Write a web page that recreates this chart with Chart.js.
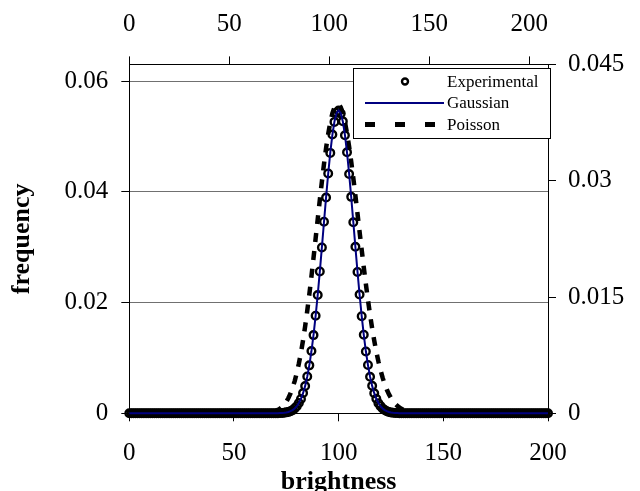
<!DOCTYPE html>
<html>
<head>
<meta charset="utf-8">
<script src="https://cdn.jsdelivr.net/npm/chart.js@4/dist/chart.umd.min.js"></script>
<style>
  html, body { margin: 0; padding: 0; background: #fff; }
  #c { display: block; }
</style>
</head>
<body>
<canvas id="c" width="640" height="491"></canvas>
<script>
// ---------- DATA ----------
const brightness = [
  0,1,2,3,4,5,6,7,8,9,10,11,12,13,14,15,16,17,18,19,
  20,21,22,23,24,25,26,27,28,29,30,31,32,33,34,35,36,37,38,39,
  40,41,42,43,44,45,46,47,48,49,50,51,52,53,54,55,56,57,58,59,
  60,61,62,63,64,65,66,67,68,69,70,71,72,73,74,75,76,77,78,79,
  80,81,82,83,84,85,86,87,88,89,90,91,92,93,94,95,96,97,98,99,
  100,101,102,103,104,105,106,107,108,109,110,111,112,113,114,115,116,117,118,119,
  120,121,122,123,124,125,126,127,128,129,130,131,132,133,134,135,136,137,138,139,
  140,141,142,143,144,145,146,147,148,149,150,151,152,153,154,155,156,157,158,159,
  160,161,162,163,164,165,166,167,168,169,170,171,172,173,174,175,176,177,178,179,
  180,181,182,183,184,185,186,187,188,189,190,191,192,193,194,195,196,197,198,199,
  200
];

// brightness 0..69 -> 0 ; 70..130 values ; 131..200 -> 0
const experimental = [
  0,0,0,0,0,0,0,0,0,0, 0,0,0,0,0,0,0,0,0,0, 0,0,0,0,0,0,0,0,0,0,
  0,0,0,0,0,0,0,0,0,0, 0,0,0,0,0,0,0,0,0,0, 0,0,0,0,0,0,0,0,0,0,
  0,0,0,0,0,0,0,0,0,0,
  0.00001,0.00002,0.00004,0.00006,0.00010,0.00017,0.00024,0.00039,0.00057,0.00089,
  0.00126,0.00187,0.00259,0.00366,0.00492,0.00665,0.00866,0.01124,0.01412,0.01762,
  0.02135,0.02562,0.02995,0.03460,0.03896,0.04331,0.04702,0.05033,0.05262,0.05425,
  0.05466,0.05414,0.05273,0.05021,0.04713,0.04320,0.03908,0.03449,0.03006,0.02553,
  0.02144,0.01754,0.01419,0.01117,0.00873,0.00659,0.00497,0.00361,0.00264,0.00183,
  0.00129,0.00086,0.00059,0.00037,0.00025,0.00015,0.00010,0.00006,0.00004,0.00002,
  0.00001,
  0,0,0,0,0,0,0,0,0,0, 0,0,0,0,0,0,0,0,0,0, 0,0,0,0,0,0,0,0,0,0,
  0,0,0,0,0,0,0,0,0,0, 0,0,0,0,0,0,0,0,0,0, 0,0,0,0,0,0,0,0,0,0,
  0,0,0,0,0,0,0,0,0,0
];

const gaussian = [
  0,0,0,0,0,0,0,0,0,0, 0,0,0,0,0,0,0,0,0,0, 0,0,0,0,0,0,0,0,0,0,
  0,0,0,0,0,0,0,0,0,0, 0,0,0,0,0,0,0,0,0,0, 0,0,0,0,0,0,0,0,0,0,
  0,0,0,0,0,0,0,0,0,0,
  0.00001,0.00002,0.00004,0.00006,0.00010,0.00016,0.00025,0.00038,0.00058,0.00087,
  0.00128,0.00185,0.00262,0.00363,0.00495,0.00662,0.00870,0.01120,0.01416,0.01758,
  0.02140,0.02558,0.03001,0.03454,0.03902,0.04326,0.04708,0.05027,0.05268,0.05419,
  0.05470,0.05419,0.05268,0.05027,0.04708,0.04326,0.03902,0.03454,0.03001,0.02558,
  0.02140,0.01758,0.01416,0.01120,0.00870,0.00662,0.00495,0.00363,0.00262,0.00185,
  0.00128,0.00087,0.00058,0.00038,0.00025,0.00016,0.00010,0.00006,0.00004,0.00002,
  0.00001,
  0,0,0,0,0,0,0,0,0,0, 0,0,0,0,0,0,0,0,0,0, 0,0,0,0,0,0,0,0,0,0,
  0,0,0,0,0,0,0,0,0,0, 0,0,0,0,0,0,0,0,0,0, 0,0,0,0,0,0,0,0,0,0,
  0,0,0,0,0,0,0,0,0,0
];

// read against the right-hand axis; brightness 0..61 -> 0 ; 62..142 values ; 143..200 -> 0
const poisson = [
  0,0,0,0,0,0,0,0,0,0, 0,0,0,0,0,0,0,0,0,0, 0,0,0,0,0,0,0,0,0,0,
  0,0,0,0,0,0,0,0,0,0, 0,0,0,0,0,0,0,0,0,0, 0,0,0,0,0,0,0,0,0,0,
  0,0,
  0.000012,0.000019,0.000029,0.000045,0.000068,0.000102,0.000150,0.000217,
  0.000311,0.000437,0.000608,0.000832,0.001125,0.001500,0.001973,0.002562,0.003285,0.004158,
  0.005198,0.006417,0.007826,0.009428,0.011224,0.013205,0.015355,0.017649,0.020056,0.022535,
  0.025039,0.027515,0.029908,0.032159,0.034212,0.036012,0.037513,0.038673,0.039462,0.039861,
  0.039861,0.039466,0.038692,0.037565,0.036120,0.034400,0.032453,0.030330,0.028083,0.025764,
  0.023422,0.021101,0.018840,0.016673,0.014625,0.012718,0.010963,0.009370,0.007941,0.006673,
  0.005561,0.004596,0.003767,0.003063,0.002470,0.001976,0.001568,0.001235,0.000965,0.000748,
  0.000575,0.000439,0.000333,0.000250,0.000187,0.000138,0.000102,0.000074,0.000054,0.000039,
  0.000028,0.000020,0.000014,
  0,0,0,0,0,0,0,0,0,0, 0,0,0,0,0,0,0,0,0,0, 0,0,0,0,0,0,0,0,0,0,
  0,0,0,0,0,0,0,0,0,0, 0,0,0,0,0,0,0,0,0,0, 0,0,0,0,0,0,0,0
];

const seriesNames = ['Experimental', 'Gaussian', 'Poisson'];
const bottomTicks = [0, 50, 100, 150, 200];
const bottomTickLabels = ['0', '50', '100', '150', '200'];
const topTicks = [0, 50, 100, 150, 200];
const topTickLabels = ['0', '50', '100', '150', '200'];
const leftTicks = [0, 0.02, 0.04, 0.06];
const leftTickLabels = ['0', '0.02', '0.04', '0.06'];
const rightTicks = [0, 0.015, 0.03, 0.045];
const rightTickLabels = ['0', '0.015', '0.03', '0.045'];

// ---------- CHART ----------
const SERIF = "'Liberation Serif', 'Times New Roman', serif";
const pts = (ys) => brightness.map((x, i) => ({ x: x, y: ys[i] }));
const setTicks = (arr) => (s) => { s.ticks = arr.map(v => ({ value: v })); };
const tickFont = { family: SERIF, size: 25 };

const legendBox = {
  id: 'legendBox',
  afterDraw(chart) {
    const ctx = chart.ctx;
    const ds = chart.data.datasets;
    const L = 353.5, T = 68.5, R = 550.5, B = 138.5;
    ctx.save();
    ctx.fillStyle = '#fff';
    ctx.fillRect(L, T, R - L, B - T);
    ctx.strokeStyle = '#000';
    ctx.lineWidth = 1;
    ctx.strokeRect(L, T, R - L, B - T);
    const rows = [81.5, 103, 124.5];
    ctx.font = '17px ' + SERIF;
    ctx.fillStyle = '#000';
    ctx.textBaseline = 'middle';
    ctx.textAlign = 'left';
    ds.forEach((d, i) => {
      const y = rows[i];
      ctx.fillText(d.label, 447, y + 1);
      if (i === 0) {
        ctx.beginPath();
        ctx.arc(405, y, 3, 0, Math.PI * 2);
        ctx.lineWidth = 2.4;
        ctx.strokeStyle = d.pointBorderColor;
        ctx.stroke();
      } else if (i === 1) {
        ctx.beginPath();
        ctx.moveTo(365, y);
        ctx.lineTo(444, y);
        ctx.lineWidth = 2;
        ctx.strokeStyle = d.borderColor;
        ctx.setLineDash([]);
        ctx.stroke();
      } else {
        ctx.beginPath();
        ctx.moveTo(365, y);
        ctx.lineTo(437, y);
        ctx.lineWidth = 5;
        ctx.strokeStyle = d.borderColor;
        ctx.setLineDash([10, 20]);
        ctx.stroke();
        ctx.setLineDash([]);
      }
    });
    ctx.restore();
  }
};

new Chart(document.getElementById('c'), {
  type: 'line',
  data: {
    datasets: [
      {
        label: seriesNames[0],
        data: pts(experimental),
        xAxisID: 'x', yAxisID: 'y',
        showLine: false,
        pointStyle: 'circle',
        pointRadius: 3.8,
        pointBorderWidth: 2.4,
        pointBorderColor: '#000',
        pointBackgroundColor: 'rgba(0,0,0,0)',
        borderColor: '#000',
        order: 1,
        clip: false
      },
      {
        label: seriesNames[1],
        data: pts(gaussian),
        xAxisID: 'x', yAxisID: 'y',
        borderColor: '#000080',
        borderWidth: 2,
        pointRadius: 0,
        tension: 0,
        order: 0,
        clip: false
      },
      {
        label: seriesNames[2],
        data: pts(poisson),
        xAxisID: 'x', yAxisID: 'y2',
        borderColor: '#000',
        borderWidth: 4.5,
        borderDash: [9, 9],
        pointRadius: 0,
        tension: 0,
        order: 2,
        clip: false
      }
    ]
  },
  options: {
    responsive: false,
    animation: false,
    devicePixelRatio: 1,
    layout: { padding: 0 },
    plugins: { legend: { display: false }, tooltip: { enabled: false } },
    scales: {
      x: {
        type: 'linear', position: 'bottom', min: 0, max: 200,
        afterBuildTicks: setTicks(bottomTicks),
        afterFit: (s) => { s.height = 77.7; },
        ticks: { color: '#000', font: tickFont, padding: 17, maxRotation: 0, autoSkip: false,
                 callback: (v, i) => bottomTickLabels[i] },
        grid: { drawOnChartArea: false, tickLength: 8, tickColor: '#000' },
        border: { color: '#000', width: 1 },
        title: { display: true, text: 'brightness', color: '#000',
                 font: { family: SERIF, size: 26, weight: 'bold', lineHeight: 1 },
                 padding: { top: 0, bottom: -4 } }
      },
      x2: {
        type: 'linear', position: 'top', min: 0, max: 209.4,
        afterBuildTicks: setTicks(topTicks),
        afterFit: (s) => { s.height = 64.4; },
        ticks: { color: '#000', font: tickFont, padding: 17, maxRotation: 0, autoSkip: false,
                 callback: (v, i) => topTickLabels[i] },
        grid: { drawOnChartArea: false, tickLength: 8, tickColor: '#000' },
        border: { color: '#000', width: 1 }
      },
      y: {
        type: 'linear', position: 'left', min: 0, max: 0.063,
        afterBuildTicks: setTicks(leftTicks),
        afterFit: (s) => { s.width = 129.3; },
        ticks: { color: '#000', font: tickFont, padding: 13, autoSkip: false,
                 callback: (v, i) => leftTickLabels[i] },
        grid: { color: '#707070', lineWidth: 1, tickLength: 8, tickColor: '#000' },
        border: { color: '#000', width: 1 },
        title: { display: true, text: 'frequency', color: '#000',
                 font: { family: SERIF, size: 26, weight: 'bold', lineHeight: 1 },
                 padding: { top: 9.5, bottom: 0 } }
      },
      y2: {
        type: 'linear', position: 'right', min: 0, max: 0.045,
        afterBuildTicks: setTicks(rightTicks),
        afterFit: (s) => { s.width = 92; },
        ticks: { color: '#000', font: tickFont, padding: 12, autoSkip: false,
                 callback: (v, i) => rightTickLabels[i] },
        grid: { drawOnChartArea: false, tickLength: 8, tickColor: '#000' },
        border: { color: '#000', width: 1 }
      }
    }
  },
  plugins: [legendBox]
});
</script>
</body>
</html>
